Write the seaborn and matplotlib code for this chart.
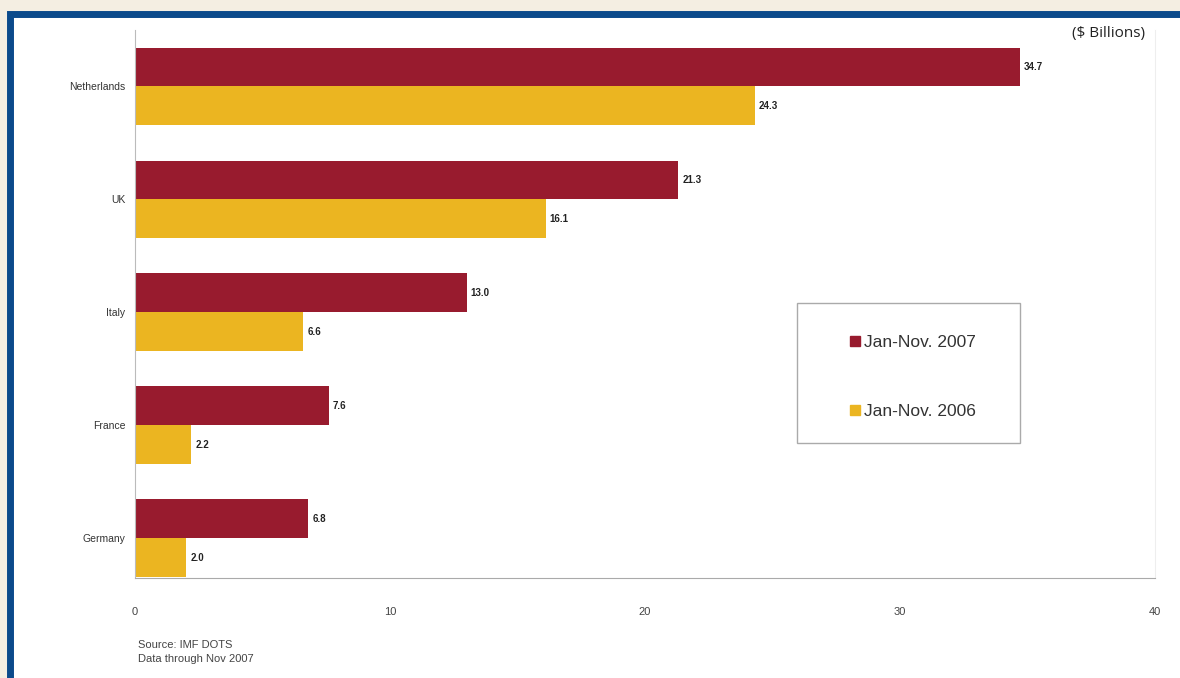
import pandas as pd
import numpy as np
import matplotlib.pyplot as plt
import seaborn as sns
from matplotlib.patches import Rectangle
from matplotlib.lines import Line2D

countries = ['Netherlands', 'UK', 'Italy', 'France', 'Germany']
periods = ['Jan-Nov. 2007', 'Jan-Nov. 2006']
values_2007 = [34.7, 21.3, 13.0, 7.6, 6.8]
values_2006 = [24.3, 16.1, 6.6, 2.2, 2.0]
colors = ['#981B2E', '#EBB521']

df = pd.DataFrame({
    'country': countries * 2,
    'period': [periods[0]] * 5 + [periods[1]] * 5,
    'value': values_2007 + values_2006,
})

sns.set_style("white")
plt.rcParams['font.family'] = ['Liberation Sans', 'DejaVu Sans']

fig = plt.figure(figsize=(11.8, 6.78), dpi=100)
fig.patch.set_facecolor('#F4EEE2')

# blue frame with white inside
frame = Rectangle((10 / 1180, -0.05), 1.1, 1 - 14 / 678 + 0.05, transform=fig.transFigure,
                  facecolor='white', edgecolor='#0B4A8B', linewidth=5, zorder=0)
fig.patches.append(frame)

ax = fig.add_axes([135 / 1180, 1 - 578 / 678, (1155 - 135) / 1180, (578 - 30) / 678])
ax.set_facecolor('none')
ax.set_zorder(1)

sns.barplot(data=df, y='country', x='value', hue='period', order=countries,
            hue_order=periods, palette=colors, orient='h', width=0.69,
            saturation=1, linewidth=0, ax=ax, legend=False)

for cont in ax.containers:
    ax.bar_label(cont, fmt='%.1f', padding=3, fontsize=7, fontweight='bold', color='#222222')

ax.set_xlim(0, 40)
ax.set_ylim(4.35, -0.5)
ax.set_xticks([0, 10, 20, 30, 40])
ax.set_xlabel('')
ax.set_ylabel('')
ax.tick_params(axis='x', labelsize=8, colors='#555555', length=3, width=0.6, pad=18)
ax.tick_params(axis='y', labelsize=7.5, colors='#333333', length=0, pad=7)
for lab in ax.get_xticklabels():
    lab.set_color('#444444')
ax.spines['top'].set_visible(False)
ax.spines['left'].set_color('#BBBBBB')
ax.spines['bottom'].set_color('#AAAAAA')
ax.spines['right'].set_color('#EEEEEE')
for s in ['left', 'bottom', 'right']:
    ax.spines[s].set_linewidth(0.8)

# legend box
fig.patches.append(Rectangle((797 / 1180, 1 - 443 / 678), 223 / 1180, 140 / 678,
                             transform=fig.transFigure, facecolor='white',
                             edgecolor='#AAAAAA', linewidth=1, zorder=2))
handles = [Line2D([], [], marker='s', linestyle='', markersize=7, color=c) for c in colors]
leg = fig.legend(handles, periods, loc='upper left', bbox_to_anchor=(838 / 1180, 1 - 326 / 678),
                 frameon=False, fontsize=12.5, handletextpad=0.0, labelspacing=3.1,
                 handlelength=1.0, borderpad=0)
leg.set_zorder(5)
for t in leg.get_texts():
    t.set_color('#333333')

fig.text(1145 / 1180, 1 - 33 / 678, '($ Billions)', ha='right', va='center', fontsize=11,
         family=['Open Sans', 'DejaVu Sans'], color='#222222')
fig.text(138 / 1180, 1 - 652 / 678, 'Source: IMF DOTS\nData through Nov 2007', ha='left',
         va='center', fontsize=8, color='#444444', linespacing=1.5)

plt.savefig('out.png', dpi=100)
